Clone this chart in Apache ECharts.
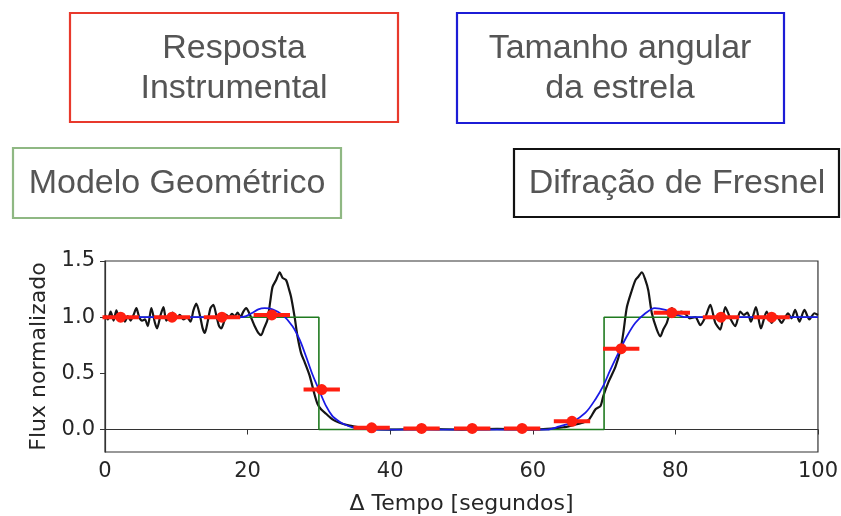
<!DOCTYPE html>
<html>
<head>
<meta charset="utf-8">
<script src="https://cdn.jsdelivr.net/npm/echarts@6/dist/echarts.min.js"></script>
<style>
  html, body { margin: 0; padding: 0; background: #fff; }
  #chart { width: 841px; height: 516px; }
</style>
</head>
<body>
<div id="chart"></div>
<script>
// Occultation light curve: geometric step model, stellar-disk smoothing,
// Fresnel diffraction and binned instrumental response (with exposure bars).

const geomX = [0, 30, 30, 70, 70, 100];
const geomY = [1, 1, 0, 0, 1, 1];

const starX = [0, 18, 18.9, 19.8, 20.7, 21.5, 22.4, 23.5, 24.9, 26.3, 27.3, 28.2, 29.1, 30.1, 31.0, 31.9, 32.9, 33.8, 34.7, 36.6, 38,
  62, 63.6, 65.5, 67.4, 68.8, 69.9, 70.8, 72.0, 73.2, 74.4, 75.8, 77.1, 78.6, 80.0, 81.4, 83, 100];
const starY = [1, 1, 1.0, 1.01, 1.04, 1.07, 1.08, 1.07, 1.02, 0.92, 0.8, 0.65, 0.49, 0.34, 0.21, 0.12, 0.07, 0.04, 0.02, 0.005, 0,
  0, 0.025, 0.065, 0.15, 0.27, 0.39, 0.52, 0.68, 0.83, 0.95, 1.035, 1.08, 1.065, 1.03, 1.0, 1.0, 1.0];

const fresnelX = [0, 0.4, 0.8, 1.2, 1.6, 2.0, 2.4, 2.8, 3.2, 3.6, 4.0, 4.4, 4.8, 5.2, 5.6, 6.0, 6.5, 7.0, 7.3, 7.8, 8.2, 8.6, 9.0, 9.5, 10.0,
  10.5, 11.0, 11.5, 12.0, 12.4, 12.8, 13.3, 13.7, 14.0, 14.4, 14.8, 15.2, 15.6, 16.0, 16.3, 16.7, 17.0, 17.4, 17.8, 18.2, 18.6, 19.0,
  19.4, 19.8, 20.2, 20.6, 21.0, 21.5, 21.9, 22.3, 22.8, 23.2, 23.5, 24.0, 24.5, 24.9, 25.4, 25.8, 26.1, 26.6, 27.0, 27.5, 28.0, 28.7,
  29.4, 29.8, 30.3, 31.0, 31.9, 32.9, 34.3, 35.7, 37.5, 40, 45, 50, 55, 60, 62, 64.3, 65.7, 67.0, 67.9, 68.8, 69.5, 69.9, 70.6, 71.6,
  72.3, 72.7, 73.2, 73.9, 74.4, 74.8, 75.3, 75.8, 76.2, 76.7, 77.4, 77.9, 78.3, 78.8, 79.5, 80.2, 80.8, 81.4, 82.0, 82.8, 83.5, 84.2,
  84.9, 85.6, 86.3, 87.0, 87.7, 88.4, 89.1, 89.6, 90.1, 90.6, 91.3, 92.0, 92.8, 93.5, 94.2, 94.9, 95.4, 95.8, 96.3, 96.8, 97.4, 98.1,
  98.8, 99.5, 100];
const fresnelY = [1.02, 0.98, 1.05, 0.97, 1.06, 0.98, 1.03, 0.96, 1.01, 0.97, 1.02, 1.08, 1.0, 0.97, 0.98, 0.92, 1.08, 0.95, 0.9, 1.02, 1.09, 0.97, 1.0, 1.04, 0.99,
  1.02, 0.98, 1.0, 0.96, 1.06, 1.12, 1.02, 0.9, 0.86, 0.96, 1.08, 1.11, 1.02, 0.92, 0.9, 0.96, 1.02, 1.0, 1.03, 1.01, 1.04, 1.0,
  1.05, 1.08, 1.04, 0.98, 0.92, 0.86, 0.84, 0.9, 0.98, 1.15, 1.27, 1.33, 1.40, 1.35, 1.33, 1.25, 1.18, 1.0, 0.83, 0.68, 0.6, 0.48,
  0.31, 0.23, 0.18, 0.14, 0.09, 0.06, 0.035, 0.02, 0.005, 0, 0.005, 0, 0.005, 0, 0.005, 0.02, 0.04, 0.06, 0.09, 0.18, 0.21, 0.3, 0.42, 0.56,
  0.71, 0.86, 1.09, 1.24, 1.33, 1.36, 1.40, 1.33, 1.24, 1.035, 0.89, 0.83, 0.89, 0.95, 1.08, 1.02, 1.05, 1.03, 0.99, 1.0, 0.93, 1.0,
  1.11, 0.95, 0.89, 1.09, 0.99, 0.92, 1.05, 1.02, 1.04, 0.96, 1.09, 0.9, 1.05, 0.95, 1.01, 0.95, 1.0, 1.035, 0.99, 1.065, 0.96, 1.065,
  0.98, 1.035, 1.02];

const binX = [2.2, 9.4, 16.4, 23.4, 30.4, 37.4, 44.4, 51.5, 58.5, 65.5, 72.4, 79.5, 86.4, 93.5];
const binY = [1.0, 1.0, 1.0, 1.02, 0.356, 0.015, 0.01, 0.01, 0.01, 0.073, 0.72, 1.04, 1.0, 1.0];
const binHalfWidth = [2.55, 2.55, 2.55, 2.55, 2.55, 2.55, 2.55, 2.55, 2.55, 2.55, 2.55, 2.55, 2.55, 2.55];

const yTicks = [0, 0.5, 1.0, 1.5];
const xTicks = [0, 20, 40, 60, 80, 100];

const zip = (xs, ys) => xs.map((x, i) => [x, ys[i]]);

const chart = echarts.init(document.getElementById('chart'), null, { renderer: 'canvas' });

const tickFont = { fontFamily: 'DejaVu Sans', fontSize: 21, color: '#262626' };
const boxFont = 'Liberation Sans';

function box(x, y, w, h, color, text, cx, cy) {
  return [
    { type: 'rect', shape: { x: x, y: y, width: w, height: h },
      style: { fill: 'none', stroke: color, lineWidth: 2.2 } },
    { type: 'text', x: cx, y: cy,
      style: { text: text, fill: '#555555', font: '34px "' + boxFont + '"',
               textAlign: 'center', textVerticalAlign: 'middle', lineHeight: 40 } }
  ];
}

chart.setOption({
  animation: false,
  backgroundColor: '#ffffff',
  grid: { left: 105, right: 21, top: 261, bottom: 62, show: true, borderColor: '#333', borderWidth: 1.2 },
  xAxis: {
    type: 'value', min: 0, max: 100, interval: 20,
    name: 'Δ Tempo [segundos]', nameLocation: 'middle', nameGap: 41,
    nameTextStyle: { fontFamily: 'DejaVu Sans', fontSize: 22, color: '#262626' },
    axisLine: { show: true, lineStyle: { color: '#333', width: 1.2 } },
    axisTick: { show: true, inside: false, length: 5, lineStyle: { color: '#333' }, customValues: xTicks },
    axisLabel: Object.assign({ margin: 9, customValues: xTicks }, tickFont),
    splitLine: { show: false }
  },
  yAxis: {
    type: 'value', min: -0.2, max: 1.5,
    name: 'Flux normalizado', nameLocation: 'middle', nameGap: 53, nameRotate: 90,
    nameTextStyle: { fontFamily: 'DejaVu Sans', fontSize: 22, color: '#262626' },
    axisLine: { show: true, lineStyle: { color: '#333', width: 1.2 } },
    axisTick: { show: true, inside: false, length: 5, lineStyle: { color: '#333' }, customValues: yTicks },
    axisLabel: Object.assign({ margin: 10, customValues: yTicks, formatter: v => v.toFixed(1) }, tickFont),
    splitLine: { show: false }
  },
  series: [
    { type: 'line', name: 'Difração de Fresnel', data: zip(fresnelX, fresnelY), symbol: 'none',
      smooth: 0.25, lineStyle: { color: '#151515', width: 2.2 }, z: 2 },
    { type: 'line', name: 'Modelo Geométrico', data: zip(geomX, geomY), symbol: 'none',
      lineStyle: { color: '#1f7a1f', width: 1.6 }, z: 3 },
    { type: 'line', name: 'Tamanho angular da estrela', data: zip(starX, starY), symbol: 'none',
      smooth: 0.3, lineStyle: { color: '#1a1ae6', width: 1.8 }, z: 4 },
    { type: 'custom', name: 'Resposta Instrumental', z: 5,
      data: binX.map((x, i) => [x, binY[i], binHalfWidth[i]]),
      renderItem: function (params, api) {
        const x = api.value(0), y = api.value(1), hw = api.value(2);
        const a = api.coord([x - hw, y]);
        const b = api.coord([x + hw, y]);
        const c = api.coord([x, y]);
        return { type: 'group', children: [
          { type: 'line', shape: { x1: a[0], y1: a[1], x2: b[0], y2: b[1] },
            style: { stroke: '#ff1f10', lineWidth: 4 } },
          { type: 'circle', shape: { cx: c[0], cy: c[1], r: 5.5 },
            style: { fill: '#ff1f10' } }
        ] };
      }
    }
  ],
  graphic: [].concat(
    box(70, 13, 328, 109, '#e8392c', 'Resposta\nInstrumental', 234, 69),
    box(457, 13, 327, 110, '#1c1cd6', 'Tamanho angular\nda estrela', 620, 69),
    box(13, 148, 328, 70, '#8fb883', 'Modelo Geométrico', 177, 184),
    box(514, 149, 325, 68, '#111111', 'Difração de Fresnel', 677, 184)
  )
});
</script>
</body>
</html>
